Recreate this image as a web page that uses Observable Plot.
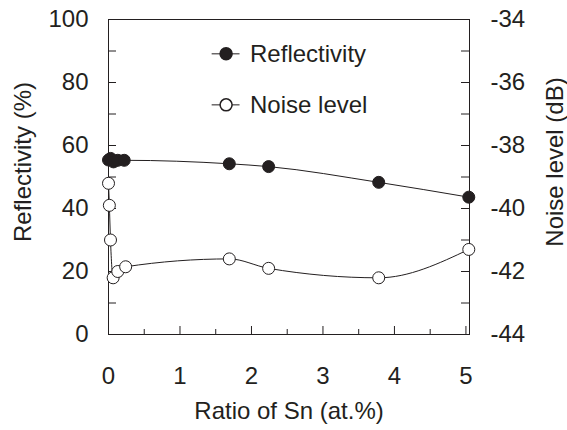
<!DOCTYPE html>
<html>
<head>
<meta charset="utf-8">
<script src="https://cdn.jsdelivr.net/npm/d3@7"></script>
<script src="https://cdn.jsdelivr.net/npm/@observablehq/plot@0.6"></script>
<style>
  html, body { margin: 0; padding: 0; background: #fff; }
</style>
</head>
<body>
<div id="chart"></div>
<script>
// ---- Data ----
const snRefl = [0, 0.03, 0.07, 0.13, 0.22, 1.69, 2.24, 3.78, 5.04];
const reflectivity = [55.4, 55.9, 54.8, 55.3, 55.3, 54.2, 53.3, 48.3, 43.6];
const snNoise = [0.0, 0.012, 0.028, 0.065, 0.13, 0.24, 1.69, 2.24, 3.78, 5.04];
const noiseDb = [-39.2, -39.9, -41.0, -42.2, -42.0, -41.85, -41.6, -41.9, -42.2, -41.3];

const xTicks = [0, 1, 2, 3, 4, 5];
const xMinorTicks = [0.5, 1.5, 2.5, 3.5, 4.5];
const leftTicks = [0, 20, 40, 60, 80, 100];
const leftMinorTicks = [10, 30, 50, 70, 90];
const rightTicks = [-44, -42, -40, -38, -36, -34];
const rightMinorTicks = [-43, -41, -39, -37, -35];

const legendLabels = ["Reflectivity", "Noise level"];
const xTitle = "Ratio of Sn (at.%)";
const leftTitle = "Reflectivity (%)";
const rightTitle = "Noise level (dB)";

// ---- Helpers ----
const dbToLeft = d => (d + 44) * 10;       // -44..-34 dB  ->  0..100
const leftToDb = v => v / 10 - 44;

const xMax = 5.05;
const W = 567, H = 430;
const mL = 108, mR = 98, mT = 19, mB = 96;
const pxX = (W - mL - mR) / xMax;   // px per x unit
const pxY = (H - mT - mB) / 100;    // px per y unit

const reflData = snRefl.map((x, i) => ({x, y: reflectivity[i]}));
const noiseData = snNoise.map((x, i) => ({x, y: dbToLeft(noiseDb[i])}));

const ink = "#231f20";
const font = "'Liberation Sans', Arial, Helvetica, sans-serif";

// inward tick lengths in data units
const majLenY = 8 / pxY, minLenY = 5 / pxY;
const tickLenX = 8 / pxX;

// legend layout (data units)
const legX0 = 1.45, legX1 = 1.84, legXm = 1.645, legTx = 1.98;
const legY = [89.1, 72.9];

const plot = Plot.plot({
  width: W,
  height: H,
  marginLeft: mL,
  marginRight: mR,
  marginTop: mT,
  marginBottom: mB,
  style: {fontSize: "24px", fontFamily: font, color: ink, background: "#fff"},
  x: {domain: [0, xMax]},
  y: {domain: [0, 100]},
  marks: [
    Plot.frame({stroke: ink, strokeWidth: 1}),
    // inward ticks: x axis
    Plot.ruleX(xTicks, {x: d => d, y1: 0, y2: majLenY, stroke: ink}),
    Plot.ruleX(xMinorTicks, {x: d => d, y1: 0, y2: minLenY, stroke: ink}),
    // inward ticks: left axis
    Plot.ruleY([...leftTicks, ...leftMinorTicks], {y: d => d, x1: 0, x2: tickLenX, stroke: ink}),
    // inward ticks: right axis
    Plot.ruleY([...rightTicks, ...rightMinorTicks].map(dbToLeft), {y: d => d, x1: xMax - tickLenX, x2: xMax, stroke: ink}),
    // axes labels
    Plot.axisX({ticks: xTicks, tickSize: 0, tickPadding: 32, label: null, fill: ink, tickFormat: d => String(d)}),
    Plot.axisY({anchor: "left", ticks: leftTicks, tickSize: 0, tickPadding: 20, label: null, fill: ink, tickFormat: d => String(d)}),
    Plot.axisY({anchor: "right", ticks: rightTicks.map(dbToLeft), tickSize: 0, tickPadding: 21, label: null, fill: ink,
      tickFormat: v => String(Math.round(leftToDb(v)))}),
    // titles
    Plot.text([xTitle], {frameAnchor: "bottom", dy: 84, text: d => d, fill: ink}),
    Plot.text([leftTitle], {frameAnchor: "left", textAnchor: "middle", dx: -85, dy: -15, rotate: -90, text: d => d, fill: ink}),
    Plot.text([rightTitle], {frameAnchor: "right", textAnchor: "middle", dx: 86, dy: -15, rotate: -90, text: d => d, fill: ink}),
    // series
    Plot.line(noiseData, {x: "x", y: "y", curve: "monotone-x", stroke: ink, strokeWidth: 1}),
    Plot.line(reflData, {x: "x", y: "y", curve: "monotone-x", stroke: ink, strokeWidth: 1}),
    Plot.dot(noiseData, {x: "x", y: "y", r: 6, fill: "#fff", stroke: ink, strokeWidth: 1}),
    Plot.dot(reflData, {x: "x", y: "y", r: 6, fill: ink, stroke: ink, strokeWidth: 1}),
    // legend
    Plot.ruleY(legY, {y: d => d, x1: legX0, x2: legX1, stroke: ink}),
    Plot.dot(legY, {x: legXm, y: d => d, r: 6, stroke: ink, fill: (d, i) => i === 0 ? ink : "#fff"}),
    Plot.text(legendLabels, {x: legTx, y: (d, i) => legY[i], text: d => d, textAnchor: "start", fill: ink})
  ]
});

document.getElementById("chart").appendChild(plot);
</script>
</body>
</html>
